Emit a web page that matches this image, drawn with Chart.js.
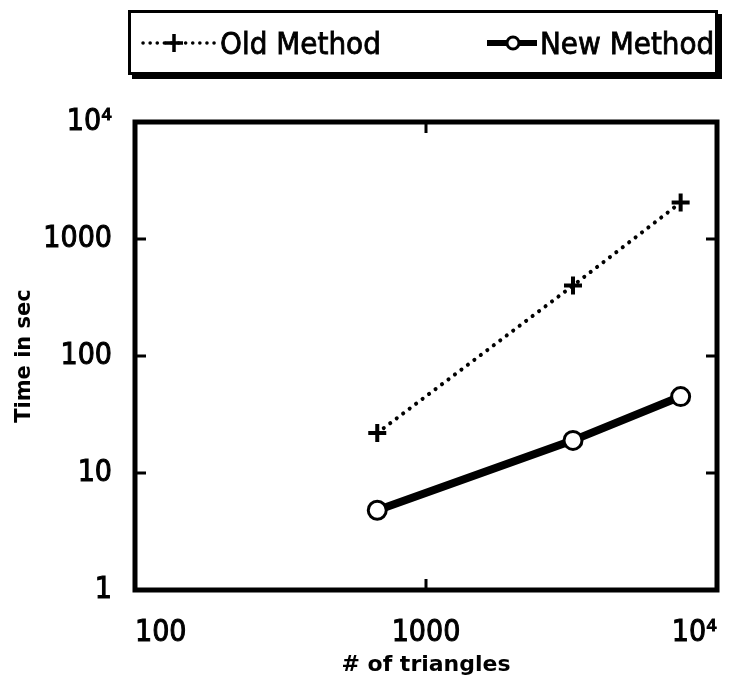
<!DOCTYPE html>
<html>
<head>
<meta charset="utf-8">
<script src="https://cdn.jsdelivr.net/npm/chart.js@4"></script>
<style>
  body { margin: 0; background: #fff; }
  #wrap { position: relative; width: 747px; height: 680px; }
  #legend {
    position: absolute; left: 128px; top: 10px; width: 584px; height: 59px;
    border: 3px solid #000; box-shadow: 4px 4px 0 #000; background: #fff;
    font-family: 'DejaVu Sans Condensed', 'DejaVu Sans', sans-serif;
    font-size: 31px; color: #000; -webkit-text-stroke: 0.8px #000;
  }
  .item { position: absolute; top: 0; height: 59px; display: flex; align-items: center; white-space: nowrap; }
  .item svg { margin-right: 3px; }
</style>
</head>
<body>
<div id="wrap">
  <canvas id="chart" width="747" height="680"></canvas>
  <div id="legend">
    <div class="item" style="left:10px">
      <svg width="76" height="30"><line x1="2" y1="15" x2="74" y2="15" stroke="#000" stroke-width="3.5" stroke-dasharray="0.1 7" stroke-linecap="round"/><path d="M33 6 V24 M24 15 H42" stroke="#000" stroke-width="3.5"/></svg>
      <span>Old Method</span>
    </div>
    <div class="item" style="left:356px">
      <svg width="50" height="30"><line x1="0" y1="15" x2="50" y2="15" stroke="#000" stroke-width="6"/><circle cx="26" cy="15" r="6" fill="#fff" stroke="#000" stroke-width="3"/></svg>
      <span>New Method</span>
    </div>
  </div>
</div>
<script>
const triangles = [680, 3200, 7500];
const oldTimes = [22, 400, 2050];
const newTimes = [4.8, 19, 45];
const xTicks = [100, 1000, 10000];
const yTicks = [1, 10, 100, 1000, 10000];
const innerXTicks = [1000];
const innerYTicks = [10, 100, 1000];

Chart.defaults.font.family = "'DejaVu Sans Condensed', 'DejaVu Sans', sans-serif";
Chart.defaults.color = '#000';

const fmt = v => v === 10000 ? '10\u2074' : String(v);

// frame around the plot and short inward ticks
const framePlugin = {
  id: 'frame',
  afterDraw(chart) {
    const { ctx, chartArea: a, scales } = chart;
    ctx.save();
    ctx.strokeStyle = '#000';
    ctx.lineWidth = 3;
    ctx.beginPath();
    innerYTicks.forEach(v => {
      const y = scales.y.getPixelForValue(v);
      ctx.moveTo(a.left, y); ctx.lineTo(a.left + 11, y);
      ctx.moveTo(a.right, y); ctx.lineTo(a.right - 11, y);
    });
    innerXTicks.forEach(v => {
      const x = scales.x.getPixelForValue(v);
      ctx.moveTo(x, a.top); ctx.lineTo(x, a.top + 11);
      ctx.moveTo(x, a.bottom); ctx.lineTo(x, a.bottom - 11);
    });
    ctx.stroke();
    ctx.lineWidth = 5;
    ctx.strokeRect(a.left, a.top, a.right - a.left, a.bottom - a.top);
    ctx.restore();
  }
};

new Chart(document.getElementById('chart'), {
  type: 'line',
  data: {
    datasets: [{
      label: 'Old Method',
      data: triangles.map((x, i) => ({ x, y: oldTimes[i] })),
      borderColor: '#000',
      borderWidth: 4,
      borderDash: [0.1, 8],
      borderCapStyle: 'round',
      pointStyle: 'cross',
      pointRadius: 9,
      pointBorderWidth: 4,
      pointBorderColor: '#000',
      tension: 0
    }, {
      label: 'New Method',
      data: triangles.map((x, i) => ({ x, y: newTimes[i] })),
      borderColor: '#000',
      borderWidth: 8,
      pointStyle: 'circle',
      pointRadius: 9,
      pointBorderWidth: 3,
      pointBorderColor: '#000',
      pointBackgroundColor: '#fff',
      tension: 0
    }]
  },
  options: {
    responsive: false,
    animation: false,
    layout: { padding: { top: 122, right: 30, left: 12, bottom: 2 } },
    plugins: { legend: { display: false }, tooltip: { enabled: false } },
    scales: {
      x: {
        type: 'logarithmic',
        min: 100, max: 10000,
        afterBuildTicks: s => { s.ticks = xTicks.map(v => ({ value: v })); },
        afterFit: s => { s.height = 88; },
        grid: { display: false, drawTicks: false },
        border: { display: false },
        ticks: { font: { size: 30 }, padding: 25, align: 'inner', maxRotation: 0, callback: fmt,
                 textStrokeColor: '#000', textStrokeWidth: 1 },
        title: { display: true, text: '# of triangles', font: { family: "'DejaVu Sans', sans-serif", size: 22, weight: 'bold' }, padding: 0 }
      },
      y: {
        type: 'logarithmic',
        min: 1, max: 10000,
        afterBuildTicks: s => { s.ticks = yTicks.map(v => ({ value: v })); },
        afterFit: s => { s.width = 123; },
        grid: { display: false, drawTicks: false },
        border: { display: false },
        ticks: { font: { size: 30 }, padding: 23, callback: fmt,
                 textStrokeColor: '#000', textStrokeWidth: 1 },
        title: { display: true, text: 'Time in sec', font: { family: "'DejaVu Sans', sans-serif", size: 21, weight: 'bold' }, padding: 0 }
      }
    }
  },
  plugins: [framePlugin]
});
</script>
</body>
</html>
